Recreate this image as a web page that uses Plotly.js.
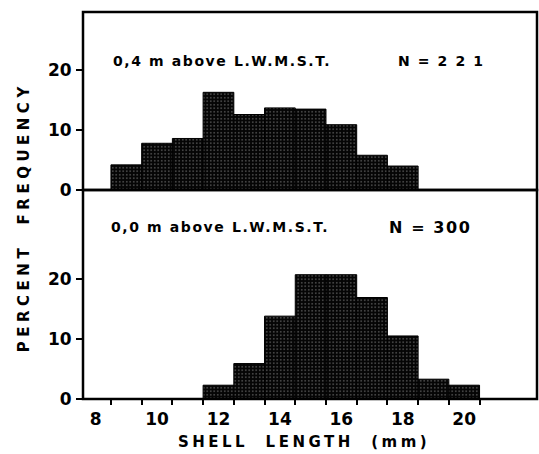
<!DOCTYPE html>
<html>
<head>
<meta charset="utf-8">
<script src="https://cdn.plot.ly/plotly-3.0.1.min.js"></script>
<style>
html,body{margin:0;padding:0;background:#fff;}
#chart{width:539px;height:454px;}
.annotation-text{letter-spacing:1.6px;}
.annotation[data-index="0"] .annotation-text{letter-spacing:4.5px;}
.annotation[data-index="1"] .annotation-text{letter-spacing:3.5px;}
</style>
</head>
<body>
<div id="chart"></div>
<script>
// Shell length classes (mm)
const topLengths = [9, 10, 11, 12, 13, 14, 15, 16, 17, 18];
const topPercent = [4.2, 7.8, 8.6, 16.3, 12.6, 13.7, 13.5, 10.9, 5.8, 4.0];
const bottomLengths = [12, 13, 14, 15, 16, 17, 18, 19, 20];
const bottomPercent = [2.3, 5.9, 13.8, 20.7, 20.7, 16.9, 10.5, 3.3, 2.3];
const xLabelVals = [8, 10, 12, 14, 16, 18, 20];
const xBinEdges = [8.5, 9.5, 10.5, 11.5, 12.5, 13.5, 14.5, 15.5, 16.5, 17.5, 18.5, 19.5, 20.5];
const yTickVals = [0, 10, 20];
const yTitle = "PERCENT  FREQUENCY";
const xTitle = "SHELL  LENGTH  (mm)";
const topLabel = "0,4 m above L.W.M.S.T.";
const topN = "N = 2 2 1";
const bottomLabel = "0,0 m above L.W.M.S.T.";
const bottomN = "N = 300";

const FONT = "DejaVu Sans, Arial, sans-serif";
const barMarker = {
  color: "#0a0a0a",
  line: {color: "#000", width: 1},
  pattern: {shape: ".", bgcolor: "#050505", fgcolor: "#a0a0a0", size: 3.5, solidity: 0.1, fillmode: "replace"}
};

const traces = [
  {type: "bar", x: topLengths, y: topPercent, xaxis: "x", yaxis: "y2", width: 1, marker: barMarker, hoverinfo: "x+y"},
  {type: "bar", x: bottomLengths, y: bottomPercent, xaxis: "x", yaxis: "y", width: 1, marker: barMarker, hoverinfo: "x+y"}
];

const yCommon = {
  tickmode: "array", tickvals: yTickVals, ticktext: ["0", "10", "20"],
  ticks: "outside", ticklen: 6, tickwidth: 2, tickcolor: "#000",
  showgrid: false, zeroline: false, showline: false,
  tickfont: {family: FONT, size: 17, color: "#000", weight: "bold"},
  ticklabelstandoff: 1
};

const frameLine = {color: "#000", width: 2.5};

const layout = {
  width: 539, height: 454,
  margin: {l: 83, r: 2, t: 12, b: 55},
  paper_bgcolor: "#fff", plot_bgcolor: "#fff",
  showlegend: false, bargap: 0,
  xaxis: {
    range: [7.59, 22.37],
    tickmode: "array", tickvals: xLabelVals,
    ticks: "", ticklen: 0,
    minor: {tickmode: "array", tickvals: xBinEdges, ticks: "outside", ticklen: 5, tickwidth: 2, tickcolor: "#000", showgrid: false},
    showgrid: false, zeroline: false, showline: false,
    tickfont: {family: FONT, size: 17, color: "#000", weight: "bold"},
    ticklabelstandoff: 8,
    anchor: "y"
  },
  yaxis: Object.assign({}, yCommon, {domain: [0, 0.54], range: [0, 34.8], anchor: "x"}),
  yaxis2: Object.assign({}, yCommon, {domain: [0.54, 1], range: [0, 29.7], anchor: "x"}),
  shapes: [
    {type: "rect", xref: "paper", yref: "y2 domain", x0: 0, x1: 1, y0: 0, y1: 1, line: frameLine, fillcolor: "rgba(0,0,0,0)", layer: "above"},
    {type: "rect", xref: "paper", yref: "y domain", x0: 0, x1: 1, y0: 0, y1: 1, line: frameLine, fillcolor: "rgba(0,0,0,0)", layer: "above"}
  ],
  annotations: [
    {xref: "paper", yref: "paper", x: -0.13, xanchor: "center", y: 0.47, text: yTitle, textangle: -90, showarrow: false,
     font: {family: FONT, size: 15, color: "#000", weight: "bold"}},
    {xref: "paper", yref: "paper", x: 0.486, xanchor: "center", y: -0.11, yanchor: "middle", text: xTitle, showarrow: false,
     font: {family: FONT, size: 15, color: "#000", weight: "bold"}},
    {xref: "x", yref: "y2", x: 8.5, y: 21.5, xanchor: "left", text: topLabel, showarrow: false,
     font: {family: FONT, size: 14, color: "#000", weight: "bold"}},
    {xref: "x", yref: "y2", x: 19.25, y: 21.5, xanchor: "center", text: topN, showarrow: false,
     font: {family: FONT, size: 14, color: "#000", weight: "bold"}},
    {xref: "x", yref: "y", x: 8.45, y: 28.6, xanchor: "left", text: bottomLabel, showarrow: false,
     font: {family: FONT, size: 14, color: "#000", weight: "bold"}},
    {xref: "x", yref: "y", x: 18.9, y: 28.6, xanchor: "center", text: bottomN, showarrow: false,
     font: {family: FONT, size: 16, color: "#000", weight: "bold"}}
  ]
};

Plotly.newPlot("chart", traces, layout, {displayModeBar: false, staticPlot: true});
</script>
</body>
</html>
